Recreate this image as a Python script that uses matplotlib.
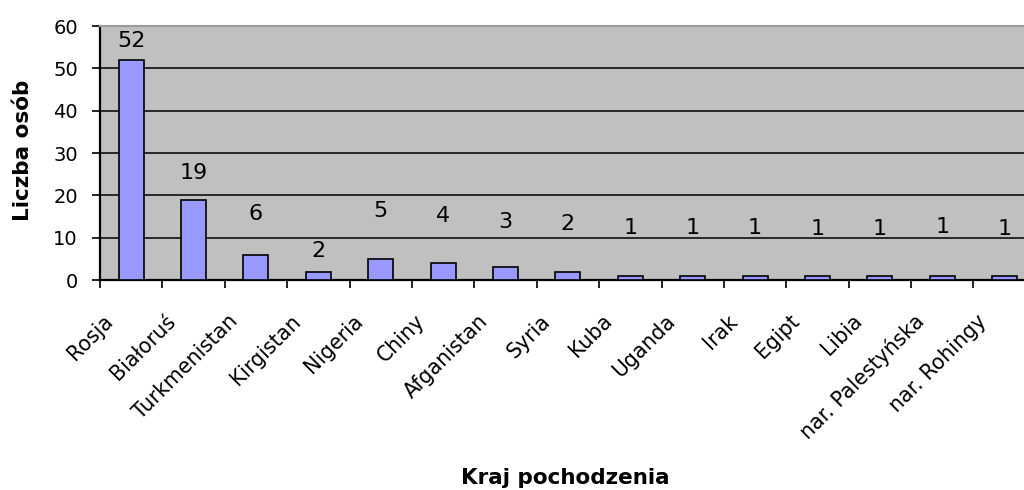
import matplotlib
import matplotlib.pyplot as plt
import numpy as np
from matplotlib.transforms import ScaledTranslation

matplotlib.use('Agg')

kraje = ['Rosja', 'Białoruś', 'Turkmenistan', 'Kirgistan', 'Nigeria', 'Chiny',
         'Afganistan', 'Syria', 'Kuba', 'Uganda', 'Irak', 'Egipt', 'Libia',
         'nar. Palestyńska', 'nar. Rohingy']
liczba_osob = [52, 19, 6, 2, 5, 4, 3, 2, 1, 1, 1, 1, 1, 1, 1]

# where the old chart put its value labels (y, in data units)
label_y = [56.4, 25.3, 15.5, 6.8, 16.4, 15.2, 13.8, 13.2,
           12.2, 12.4, 12.2, 12.1, 12.0, 12.5, 12.0]

plt.rcParams['font.family'] = 'DejaVu Sans'

fig = plt.figure(figsize=(10.24, 4.9), dpi=100)
ax = fig.add_axes([100 / 1024, 1 - 280 / 490, 924 / 1024, 254 / 490])
ax.set_facecolor('#c0c0c0')

x = np.arange(len(kraje))
ax.bar(x, liczba_osob, width=0.4, color='#9999ff', edgecolor='black',
       linewidth=1.2, zorder=3)

for xi, v, ly in zip(x, liczba_osob, label_y):
    ax.text(xi, ly, str(v), ha='center', va='center', fontsize=16, zorder=4)

ax.set_xlim(-0.5, 14.31)
ax.set_ylim(0, 60)
ax.set_yticks(range(0, 61, 10))
ax.tick_params(axis='y', labelsize=14, length=6, width=1.2, direction='out', pad=10)
ax.set_axisbelow(True)
ax.yaxis.grid(True, color='black', linewidth=1.1)

# ticks at category edges, names as rotated text
ax.set_xticks(np.arange(len(kraje)) - 0.5)
ax.set_xticklabels([])
ax.tick_params(axis='x', length=6, width=1.2, direction='out')

off = ScaledTranslation(-21 / 100, -38 / 100, fig.dpi_scale_trans)
for xi, name in zip(x, kraje):
    ax.text(xi, 0, name, transform=ax.get_xaxis_transform() + off,
            rotation=45, ha='right', va='center', rotation_mode='anchor',
            fontsize=14.8, clip_on=False)

for s in ['left', 'bottom']:
    ax.spines[s].set_linewidth(1.6)
ax.spines['right'].set_visible(False)
ax.spines['top'].set_color('#9a9a9a')
ax.spines['top'].set_linewidth(1.5)

fig.text(23 / 1024, 1 - 150 / 490, 'Liczba osób', rotation=90, ha='center',
         va='center', fontsize=15.5, fontweight='bold')
fig.text(565 / 1024, 1 - 478 / 490, 'Kraj pochodzenia', ha='center',
         va='center', fontsize=15.5, fontweight='bold')

fig.savefig('out.png', dpi=100)
